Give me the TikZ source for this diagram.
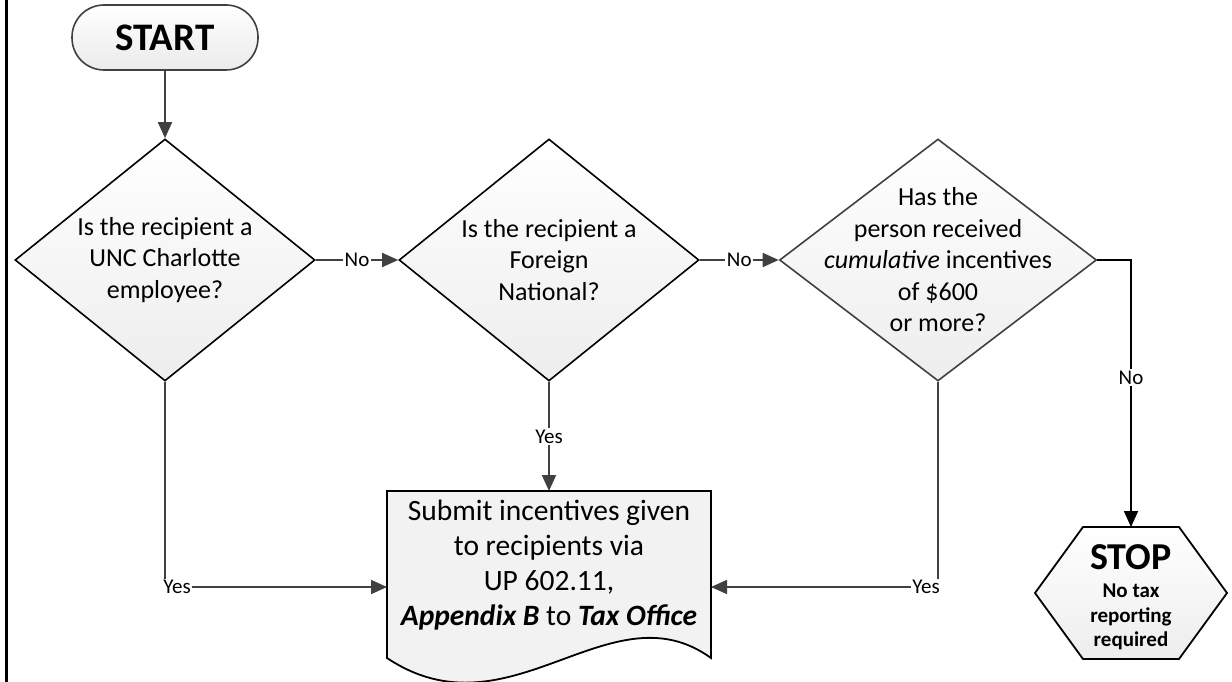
\documentclass[tikz,border=0pt]{standalone}
\usepackage{fontspec}
\setmainfont{Carlito}
\usetikzlibrary{shapes.geometric,arrows.meta,backgrounds}
\begin{document}
\begin{tikzpicture}[x=1pt,y=-1pt,
  decision/.style={diamond, draw=black, line width=1.6pt, inner sep=0pt,
    top color=white, bottom color=gray!14, minimum width=300pt, minimum height=242pt},
  dtxt/.style={align=center, font=\fontsize{26}{31.5}\selectfont},
  conn/.style={draw=darkgray, line width=1.8pt, -{Triangle[length=16pt,width=14pt]}},
  connb/.style={draw=black, line width=1.8pt, -{Triangle[length=16pt,width=14pt]}},
  lbl/.style={fill=white, inner sep=1.5pt, font=\fontsize{21}{21}\selectfont, text=black},
  shapeshade/.style={draw=black, line width=1.8pt, top color=white, bottom color=gray!14}
]
\useasboundingbox (0,0) rectangle (1232,682);
\draw[line width=3pt] (6,0) -- (6,682);

% START
\node[draw=darkgray, line width=1.6pt, rounded corners=32pt, minimum width=186pt,
  minimum height=65pt, top color=white, bottom color=gray!16,
  font=\fontsize{39}{39}\selectfont\bfseries] (start) at (165,37.5) {START};

% decisions
\node[decision, label={[dtxt]center:Is the recipient a\\UNC Charlotte\\employee?}] (d1) at (165,260) {};
\node[decision, label={[dtxt]center:Is the recipient a\\Foreign\\National?}] (d2) at (549,260) {};
\node[decision, draw=darkgray, minimum width=317pt,
  label={[dtxt]center:Has the\\person received\\\textit{cumulative} incentives\\of \$600\\or more?}] (d3) at (938,260) {};

% document
\node[minimum width=324pt, minimum height=167pt, inner sep=0pt, outer sep=0pt,
  label={[align=center, font=\fontsize{29.5}{35}\selectfont, yshift=9.5pt]center:Submit incentives given\\to recipients via\\UP 602.11{,}\\\textbf{\textit{Appendix B}} to \textbf{\textit{Tax Office}}}] (doc) at (549,574.5) {};
\begin{scope}[on background layer]
\path[shapeshade, top color=gray!10, bottom color=gray!10] (doc.north west) -- (doc.north east) -- (doc.south east)
  .. controls +(-101,-73) and +(123,82) .. (doc.south west) -- cycle;
\end{scope}

% stop
\node[minimum width=96pt, minimum height=132pt, inner sep=0pt, outer sep=0pt,
  label={[align=center, font=\fontsize{21}{24.5}\selectfont\bfseries, yshift=-4pt]center:{\fontsize{38}{38}\selectfont STOP}\\[4pt]No tax\\reporting\\required}] (stop) at (1131,593) {};
\begin{scope}[on background layer]
\path[shapeshade] (stop.north west) -- (stop.north east) -- ++(48,66) -- (stop.south east)
  -- (stop.south west) -- ++(-48,-66) -- cycle;
\end{scope}

\coordinate (yl) at (0,587);

% connectors
\draw[conn] (start) -- (d1);
\draw[conn] (d1.east) -- node[lbl]{No} (d2.west);
\draw[conn] (d2.east) -- node[lbl]{No} (d3.west);
\draw[conn] (d2.south) -- node[lbl]{Yes} (doc.north);
\draw[conn] (d1.south) |- node[lbl, pos=0.5, xshift=12pt]{Yes} (doc.west |- yl);
\draw[conn] (d3.south) |- node[lbl, pos=0.5, xshift=-12pt]{Yes} (doc.east |- yl);
\draw[connb] (d3.east) -| node[lbl, pos=0.72]{No} (stop.north);
\end{tikzpicture}
\end{document}
